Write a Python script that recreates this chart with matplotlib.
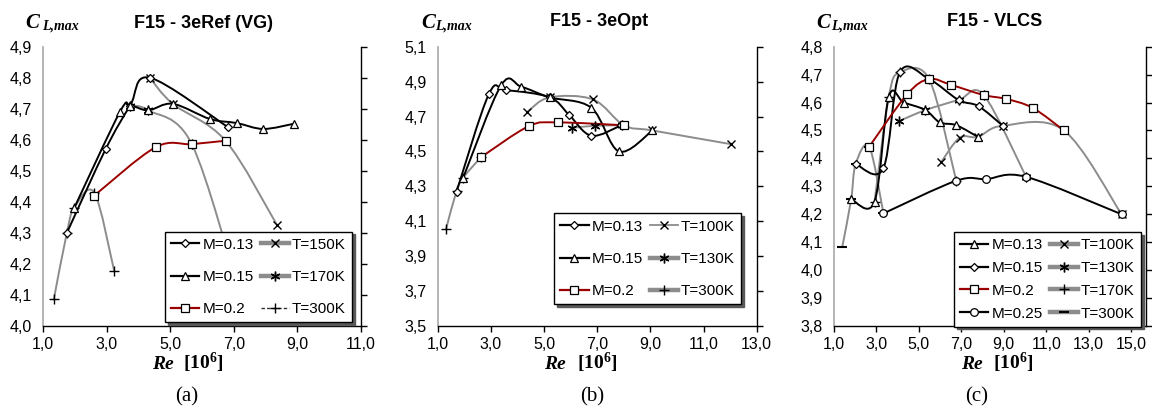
import numpy as np
import matplotlib
matplotlib.use('Agg')
import matplotlib.pyplot as plt
from matplotlib.path import Path
from matplotlib.patches import PathPatch
from matplotlib.lines import Line2D
from matplotlib.ticker import FuncFormatter

plt.rcParams['font.family'] = ['Liberation Sans', 'DejaVu Sans']
plt.rcParams['mathtext.fontset'] = 'custom'
plt.rcParams['mathtext.rm'] = 'Liberation Serif:bold'
plt.rcParams['mathtext.bf'] = 'Liberation Serif:bold'
plt.rcParams['mathtext.it'] = 'Liberation Serif:italic:bold'

# ---------------- data ----------------
# Panel (a) F15 - 3eRef (VG)
a_m013_re = [1.75, 2.97, 3.74, 4.36, 6.83]
a_m013_cl = [4.30, 4.57, 4.71, 4.80, 4.64]
a_m015_re = [1.98, 3.42, 3.74, 4.31, 5.08, 6.25, 7.09, 7.93, 8.90]
a_m015_cl = [4.38, 4.69, 4.71, 4.695, 4.716, 4.667, 4.654, 4.635, 4.652]
a_m020_re = [2.61, 4.54, 5.68, 6.74]
a_m020_cl = [4.42, 4.576, 4.586, 4.597]
a_t150_re = [4.36, 5.08, 6.74, 8.35]
a_t150_cl = [4.80, 4.716, 4.597, 4.327]
a_t170_re = [3.74, 4.31, 5.68, 7.20]
a_t170_cl = [4.71, 4.695, 4.586, 4.10]
a_t300_re = [1.34, 1.75, 1.98, 2.61, 3.24]
a_t300_cl = [4.086, 4.30, 4.38, 4.43, 4.177]

# Panel (b) F15 - 3eOpt
b_m013_re = [1.71, 2.93, 3.58, 5.21, 5.94, 6.78, 7.91]
b_m013_cl = [4.27, 4.83, 4.85, 4.81, 4.71, 4.59, 4.65]
b_m015_re = [1.96, 3.39, 4.15, 5.21, 6.78, 7.82, 9.08]
b_m015_cl = [4.35, 4.88, 4.87, 4.81, 4.75, 4.50, 4.62]
b_m020_re = [2.62, 4.43, 5.53, 8.00]
b_m020_cl = [4.466, 4.645, 4.666, 4.65]
b_t100_re = [4.37, 5.21, 6.84, 8.00, 9.08, 12.02]
b_t100_cl = [4.727, 4.81, 4.798, 4.65, 4.62, 4.542]
b_t130_re = [6.04, 6.91, 7.95]
b_t130_cl = [4.635, 4.647, 4.65]
b_t300_re = [1.31, 1.71, 1.96, 2.62]
b_t300_cl = [4.053, 4.274, 4.35, 4.466]

# Panel (c) F15 - VLCS
c_m013_re = [1.81, 2.91, 3.58, 4.29, 5.31, 5.98, 6.76, 7.78]
c_m013_cl = [4.254, 4.245, 4.62, 4.60, 4.573, 4.529, 4.519, 4.477]
c_m015_re = [2.02, 3.32, 4.10, 5.48, 6.87, 7.81, 8.95]
c_m015_cl = [4.38, 4.364, 4.708, 4.684, 4.609, 4.587, 4.517]
c_m020_re = [2.66, 4.44, 5.48, 6.53, 8.05, 9.11, 10.36, 11.82]
c_m020_cl = [4.442, 4.629, 4.684, 4.663, 4.627, 4.613, 4.581, 4.501]
c_m025_re = [3.33, 6.76, 8.17, 10.05, 14.55]
c_m025_cl = [4.203, 4.32, 4.326, 4.334, 4.20]
c_t100_re = [6.06, 6.92, 7.78, 8.95, 11.82, 14.55]
c_t100_cl = [4.388, 4.474, 4.477, 4.517, 4.501, 4.20]
c_t130_re = [4.07, 5.31, 6.87, 8.05, 10.05]
c_t130_cl = [4.534, 4.573, 4.609, 4.627, 4.334]
c_t170_re = [2.91, 3.58, 4.10, 5.48, 6.76]
c_t170_cl = [4.245, 4.62, 4.708, 4.684, 4.32]
c_t300_re = [1.39, 1.81, 2.02, 2.66, 3.33]
c_t300_cl = [4.083, 4.254, 4.38, 4.442, 4.203]

titles = ["F15 - 3eRef (VG)", "F15 - 3eOpt", "F15 - VLCS"]
panel_tags = ["(a)", "(b)", "(c)"]

# ---------------- styles ----------------
BLACK = 'black'
RED = '#9b0000'
GRAY = '#8c8c8c'
MK = {
    'D': dict(marker='D', ms=4, mfc='white', mec='black', mew=0.9),
    '^': dict(marker='^', ms=5.5, mfc='white', mec='black', mew=0.9),
    's': dict(marker='s', ms=5.5, mfc='white', mec='black', mew=0.9),
    'o': dict(marker='o', ms=5.5, mfc='white', mec='black', mew=0.9),
    'x': dict(marker='x', ms=6, mec='black', mew=1.0),
    '*': dict(marker=(6, 2, 0), ms=7, mec='black', mew=1.0),
    '+': dict(marker='+', ms=7, mec='black', mew=1.0),
    '_': dict(marker='_', ms=7, mec='black', mew=1.5),
}

panels = [
    dict(xlim=(1, 11), ylim=(4.0, 4.9), ystep=0.1, xmaxtick=11,
         series=[
             ('T=150K', a_t150_re, a_t150_cl, GRAY, 'x', 'thick'),
             ('T=170K', a_t170_re, a_t170_cl, GRAY, '*', 'thick'),
             ('T=300K', a_t300_re, a_t300_cl, GRAY, '+', 'dash'),
             ('M=0.13', a_m013_re, a_m013_cl, BLACK, 'D', 'norm'),
             ('M=0.15', a_m015_re, a_m015_cl, BLACK, '^', 'norm'),
             ('M=0.2', a_m020_re, a_m020_cl, RED, 's', 'norm'),
         ],
         order=['M=0.13', 'M=0.15', 'M=0.2', 'T=150K', 'T=170K', 'T=300K'],
         leg=(0.384, 0.338), ls=1.2),
    dict(xlim=(1, 13), ylim=(3.5, 5.1), ystep=0.2, xmaxtick=13,
         series=[
             ('T=100K', b_t100_re, b_t100_cl, GRAY, 'x', 'thin'),
             ('T=130K', b_t130_re, b_t130_cl, GRAY, '*', 'thick'),
             ('T=300K', b_t300_re, b_t300_cl, GRAY, '+', 'thick'),
             ('M=0.13', b_m013_re, b_m013_cl, BLACK, 'D', 'norm'),
             ('M=0.15', b_m015_re, b_m015_cl, BLACK, '^', 'norm'),
             ('M=0.2', b_m020_re, b_m020_cl, RED, 's', 'norm'),
         ],
         order=['M=0.13', 'M=0.15', 'M=0.2', 'T=100K', 'T=130K', 'T=300K'],
         leg=(0.365, 0.403), ls=1.2),
    dict(xlim=(1, 15.7), ylim=(3.8, 4.8), ystep=0.1, xmaxtick=15,
         series=[
             ('T=100K', c_t100_re, c_t100_cl, GRAY, 'x', 'thick'),
             ('T=130K', c_t130_re, c_t130_cl, GRAY, '*', 'thick'),
             ('T=170K', c_t170_re, c_t170_cl, GRAY, '+', 'thick'),
             ('T=300K', c_t300_re, c_t300_cl, GRAY, '_', 'thick'),
             ('M=0.13', c_m013_re, c_m013_cl, BLACK, '^', 'norm'),
             ('M=0.15', c_m015_re, c_m015_cl, BLACK, 'D', 'norm'),
             ('M=0.2', c_m020_re, c_m020_cl, RED, 's', 'norm'),
             ('M=0.25', c_m025_re, c_m025_cl, BLACK, 'o', 'norm'),
         ],
         order=['M=0.13', 'M=0.15', 'M=0.2', 'M=0.25',
                'T=100K', 'T=130K', 'T=170K', 'T=300K'],
         leg=(0.385, 0.337), ls=0.58),
]


def smooth_path(x, y):
    pts = np.column_stack([np.asarray(x, float), np.asarray(y, float)])
    n = len(pts)
    verts = [pts[0]]
    codes = [Path.MOVETO]
    for i in range(n - 1):
        p0 = pts[i - 1] if i > 0 else pts[i]
        p1 = pts[i]
        p2 = pts[i + 1]
        p3 = pts[i + 2] if i + 2 < n else pts[i + 1]
        verts += [p1 + (p2 - p0) / 6.0, p2 - (p3 - p1) / 6.0, p2]
        codes += [Path.CURVE4] * 3
    return Path(verts, codes)


W, H = 1152, 411
fig = plt.figure(figsize=(W / 100, H / 100), dpi=100)


def fx(px):
    return px / W


def fy(py):
    return 1 - py / H


ax_px = [(43, 361), (437.7, 756.7), (834, 1146)]
top_px, bot_px = 46.7, 326

fmt = FuncFormatter(lambda v, p: f"{v:.1f}".replace('.', ','))

for k, (pan, (l, r)) in enumerate(zip(panels, ax_px)):
    ax = fig.add_axes([fx(l), fy(bot_px), (r - l) / W, (bot_px - top_px) / H])
    ax.set_xlim(*pan['xlim'])
    ax.set_ylim(*pan['ylim'])
    ax.set_xticks(np.arange(1, pan['xmaxtick'] + 0.01, 2))
    y0, y1 = pan['ylim']
    ax.set_yticks(np.arange(y0, y1 + pan['ystep'] / 2, pan['ystep']))
    ax.xaxis.set_major_formatter(fmt)
    ax.yaxis.set_major_formatter(fmt)
    ax.spines['top'].set_visible(False)
    ax.spines['left'].set_color('#a8a8a8')
    ax.spines['left'].set_linewidth(1.2)
    ax.spines['bottom'].set_linewidth(1.0)
    ax.spines['right'].set_linewidth(1.0)
    ax.tick_params(axis='y', left=False, right=True, labelleft=True,
                   labelright=False, direction='out', length=4, width=1,
                   labelsize=11.5, pad=4)
    ax.tick_params(axis='x', bottom=True, direction='out', length=4, width=1,
                   labelsize=11.5, pad=4)

    handles = {}
    for (lab, xs, ys, col, mk, kind) in pan['series']:
        lw = 1.4
        ax.add_patch(PathPatch(smooth_path(xs, ys), fill=False, edgecolor=col,
                               lw=lw, zorder=2 if col == GRAY else 3,
                               capstyle='round', joinstyle='round'))
        ax.plot(xs, ys, linestyle='none', zorder=4, **MK[mk])
        if kind == 'thick':
            h = Line2D([], [], color=GRAY, lw=3.2, **MK[mk])
        elif kind == 'thin':
            h = Line2D([], [], color=GRAY, lw=1.3, **MK[mk])
        elif kind == 'dash':
            h = Line2D([], [], color='#333333', lw=1.0, ls=(0, (2.5, 1.5)), **MK[mk])
        else:
            h = Line2D([], [], color=col, lw=1.6, **MK[mk])
        handles[lab] = h

    hs = [handles[o] for o in pan['order']]
    leg = ax.legend(hs, pan['order'], ncol=2, loc='upper left',
                    bbox_to_anchor=pan['leg'], borderaxespad=0,
                    fontsize=11, handlelength=1.85, handletextpad=0.2,
                    columnspacing=0.45, labelspacing=pan['ls'],
                    borderpad=0.4, fancybox=False, framealpha=1,
                    edgecolor='black',
                    shadow={'color': '0.35', 'alpha': 1})
    leg.get_frame().set_linewidth(1.0)
    leg.set_zorder(10)

# titles
for (cx, cy), t in zip([(203, 23), (599, 22), (995, 22)], titles):
    fig.text(fx(cx), fy(cy), t, ha='center', va='center', fontsize=13,
             fontweight='bold', family=['Liberation Sans'])

# C_L,max labels
for cxl, sxl in [(25, 42), (421, 435), (816, 831)]:
    fig.text(fx(cxl), fy(27.5), 'C', ha='left', va='baseline', fontsize=15,
             family=['Liberation Serif'], fontweight='bold', style='italic')
    fig.text(fx(sxl), fy(30), 'L,max', ha='left', va='baseline', fontsize=10,
             family=['Liberation Serif'], fontweight='bold', style='italic')

# x labels
for rxl, bxl in [(152, 183), (544, 577), (961, 993)]:
    fig.text(fx(rxl), fy(369), 'Re', ha='left', va='baseline', fontsize=14,
             family=['Liberation Serif'], fontweight='bold', style='italic')
    fig.text(fx(bxl), fy(369), '[10$^{6}$]', ha='left', va='baseline',
             fontsize=14, family=['Liberation Serif'], fontweight='bold')

# panel tags
for (cx, t) in zip([187, 592, 977], panel_tags):
    fig.text(fx(cx), fy(397), t, ha='center', va='center', fontsize=15,
             family=['Liberation Serif'])

fig.savefig('out.png', dpi=100)
